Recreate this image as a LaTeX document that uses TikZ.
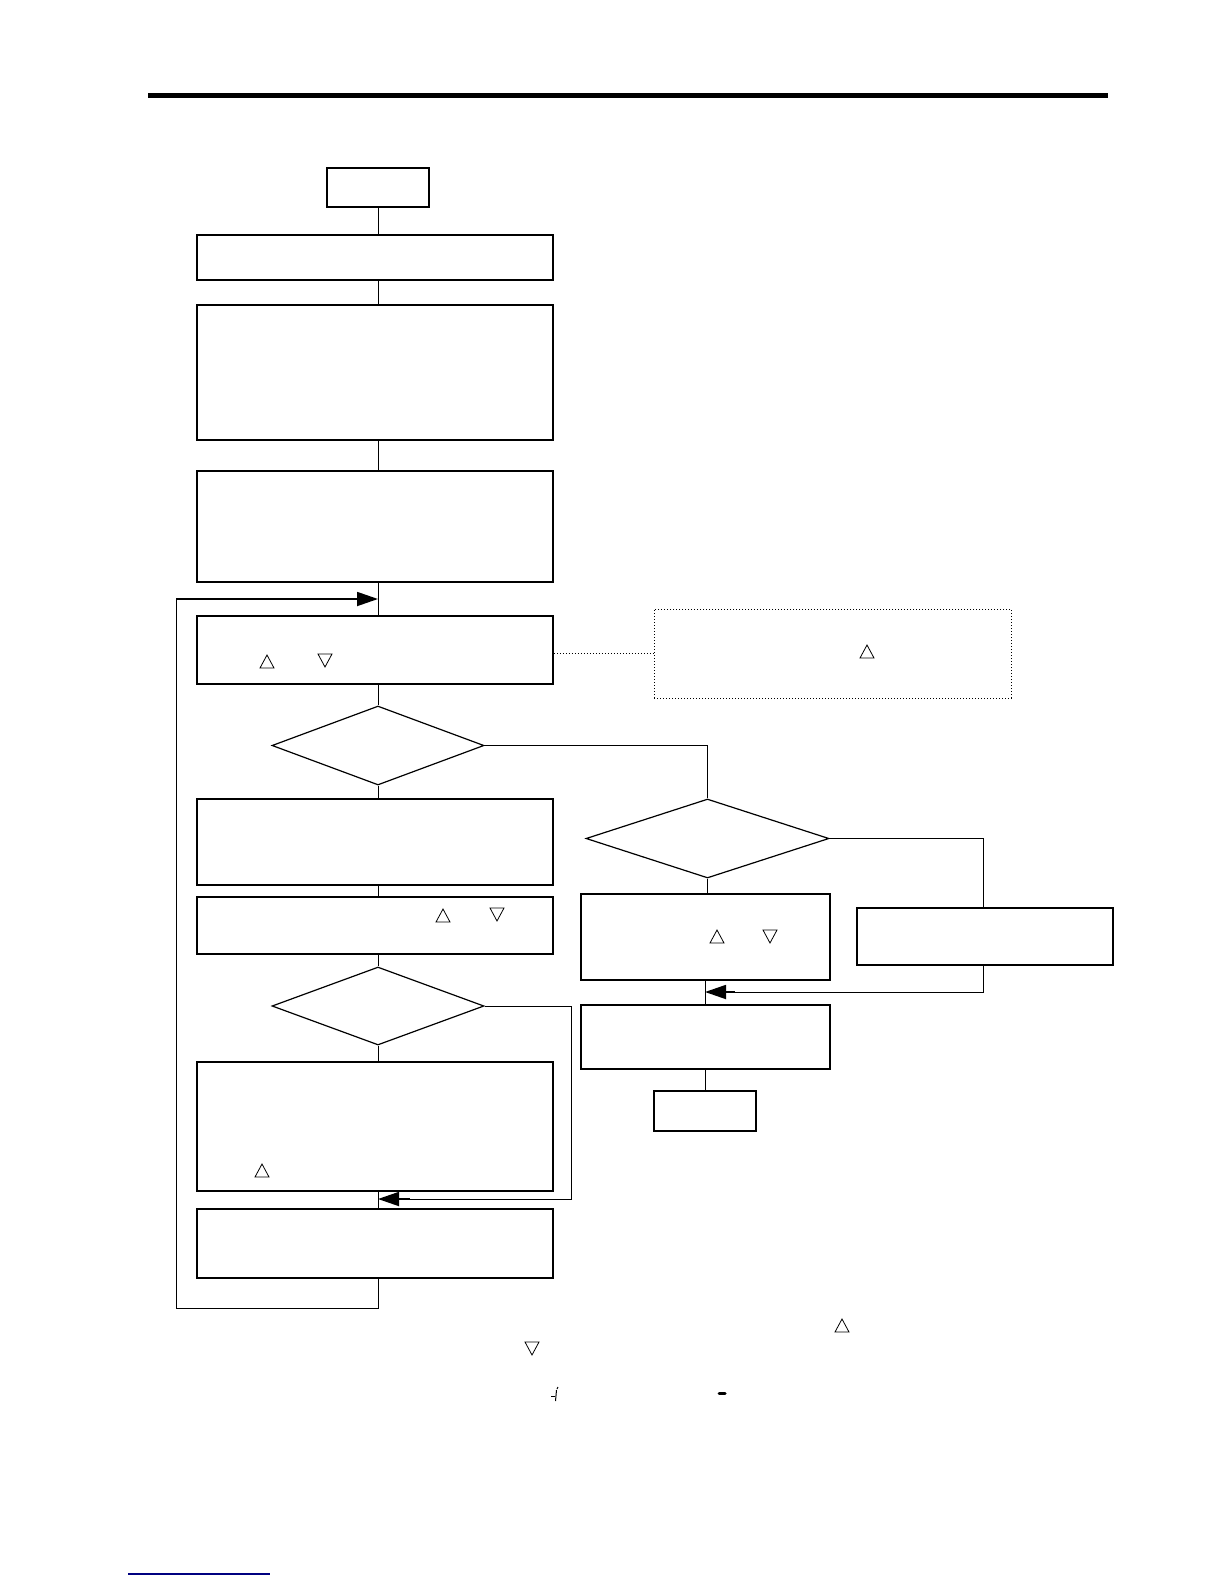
\documentclass[tikz,border=0pt]{standalone}
\usetikzlibrary{shapes.geometric,arrows.meta}
\begin{document}
\begin{tikzpicture}[x=1pt,y=-1pt,
  box/.style={draw,line width=1.5pt,inner sep=0pt,minimum width=#1},
  box/.default=356pt,
  dia/.style={draw,diamond,line width=1.2pt,inner sep=0pt,minimum width=212pt,minimum height=79pt},
  conn/.style={line width=1pt},
  arr/.style={line width=1.8pt,-{Triangle[length=21pt,width=14pt]}},
  tup/.pic={\draw[line width=0.8pt] (-7,6)--(7,6)--(0,-7)--cycle;},
  tdn/.pic={\draw[line width=0.8pt] (-7,-6)--(7,-6)--(0,7)--cycle;}]
\useasboundingbox (0,0) rectangle (1224,1584);
% header rule
\fill (148,93.5) rectangle (1108,98.5);
% left column
\node[box=102pt,minimum height=39pt] (S) at (378,187.5) {};
\node[box,minimum height=45pt] (B1) at (375,257.5) {};
\node[box,minimum height=135pt] (B2) at (375,372.5) {};
\node[box,minimum height=111pt] (B3) at (375,526.5) {};
\node[box,minimum height=68pt] (B4) at (375,650) {};
\node[dia] (D1) at (378,745.5) {};
\node[box,minimum height=86pt] (B5) at (375,842) {};
\node[box,minimum height=57pt] (B6) at (375,925.5) {};
\node[dia,minimum height=78pt] (D3) at (378,1006) {};
\node[box,minimum height=129pt] (B9) at (375,1126.5) {};
\node[box,minimum height=69pt] (B10) at (375,1243.5) {};
% right column
\node[draw,dotted,line width=1pt,inner sep=0pt,minimum width=357pt,minimum height=89pt] (N) at (832.5,653.5) {};
\node[dia,minimum width=243pt] (D2) at (707.5,838.5) {};
\node[box=249pt,minimum height=86pt] (B7) at (705.5,937) {};
\node[box=256pt,minimum height=57pt] (BR) at (985,936.5) {};
\node[box=249pt,minimum height=64pt] (B8) at (705.5,1037) {};
\node[box=102pt,minimum height=40pt] (E) at (705,1111) {};
% coordinates
\coordinate (L1) at (176,599);
\coordinate (L2) at (176,1308);
\coordinate (J1) at (705,992);
\coordinate (J2) at (378,1199);
\coordinate (R3) at (571,1006);
% connectors
\draw[conn] (S.south) -- (B1.north -| S.south);
\draw[conn] (B1.south -| S.south) -- (B2.north -| S.south);
\draw[conn] (B2.south -| S.south) -- (B3.north -| S.south);
\draw[conn] (B3.south -| S.south) -- (B4.north -| S.south);
\draw[conn] (B4.south -| S.south) -- (D1.north);
\draw[conn] (D1.south) -- (B5.north -| S.south);
\draw[conn] (B5.south -| S.south) -- (B6.north -| S.south);
\draw[conn] (B6.south -| S.south) -- (D3.north);
\draw[conn] (D3.south) -- (B9.north -| S.south);
\draw[conn] (B9.south -| S.south) -- (B10.north -| S.south);
\draw[conn] (B10.south -| S.south) -- (L2 -| S.south) -- (L2) -- (L1);
\draw[arr] (L1) -- (L1 -| S.south);
\draw[conn,dotted] (B4.east |- N.west) -- (N.west);
\draw[conn] (D1.east) -| (D2.north);
\draw[conn] (D2.south) -- (B7.north -| D2.south);
\draw[conn] (D2.east) -| (BR.north -| 983,0);
\draw[conn] (BR.south -| 983,0) -- (983,992) -- (J1 -| 735,0);
\draw[arr] (735,992) -- (J1);
\draw[conn] (B7.south -| J1) -- (B8.north -| J1);
\draw[conn] (B8.south -| E.south) -- (E.north);
\draw[conn] (D3.east) -- (R3) -- (R3 |- J2) -- (410,1199);
\draw[arr] (410,1199) -- (J2);
% triangle marks
\pic at (267,662) {tup}; \pic at (325,660) {tdn};
\pic at (867,652) {tup};
\pic at (443,916) {tup}; \pic at (497,914) {tdn};
\pic at (717,937) {tup}; \pic at (770,936) {tdn};
\pic at (262,1171) {tup};
\pic at (842,1326) {tup}; \pic at (532,1348) {tdn};
% segment glyphs
\draw[line width=1pt] (551,1396) -- (555,1396);
\draw[line width=1pt] (557,1389) -- (558,1387);
\draw[line width=1pt] (556.5,1390) -- (555.5,1401);
\draw[line width=3pt,line cap=round] (719,1393) -- (725,1393);
% footer link line
\draw[line width=1.5pt,blue!50!black] (128,1574) -- (270,1574);
\end{tikzpicture}
\end{document}
